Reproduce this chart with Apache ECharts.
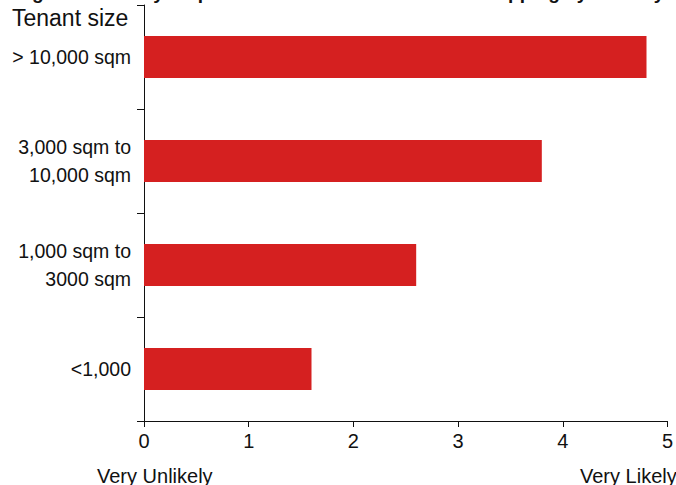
<!DOCTYPE html>
<html>
<head>
<meta charset="utf-8">
<script src="https://cdn.jsdelivr.net/npm/echarts@6/dist/echarts.min.js"></script>
<style>
  html, body { margin: 0; padding: 0; background: #fff; }
  #chart { width: 676px; height: 485px; }
</style>
</head>
<body>
<div id="chart"></div>
<script>
(function() {
  var categories = ['> 10,000 sqm', '3,000 sqm to\n10,000 sqm', '1,000 sqm to\n3000 sqm', '<1,000'];
  var scores = [4.8, 3.8, 2.6, 1.6];
  var xTicks = [0, 1, 2, 3, 4, 5];

  var font = "'Liberation Sans', Arial, sans-serif";
  var ink = '#111';
  var red = '#d52020';

  var chart = echarts.init(document.getElementById('chart'), null, { renderer: 'svg' });
  chart.setOption({
    animation: false,
    title: {
      text: 'Figure 4: Survey responses \u2013 likelihood of location mapping by tenancy',
      left: 10,
      top: -22,
      textStyle: { fontFamily: font, fontSize: 19, fontWeight: 'bold', color: ink }
    },
    grid: { left: 144, right: 8, top: 5, bottom: 64 },
    xAxis: {
      type: 'value',
      min: xTicks[0],
      max: xTicks[xTicks.length - 1],
      interval: 1,
      axisLine: { show: true, lineStyle: { color: ink, width: 1 } },
      axisTick: { show: true, length: 6, lineStyle: { color: ink } },
      axisLabel: { color: ink, fontFamily: font, fontSize: 20, margin: 10 },
      splitLine: { show: false }
    },
    yAxis: {
      type: 'category',
      inverse: true,
      data: categories,
      axisLine: { show: true, lineStyle: { color: ink, width: 1 } },
      axisTick: { show: true, length: 7, lineStyle: { color: ink } },
      axisLabel: { color: ink, fontFamily: font, fontSize: 19.5, lineHeight: 28, align: 'right', margin: 13 }
    },
    series: [{
      type: 'bar',
      data: scores,
      barWidth: 42,
      itemStyle: { color: red }
    }],
    graphic: [
      { type: 'text', left: 12, top: 6, style: { text: 'Tenant size', font: '23px ' + font, fill: ink } },
      { type: 'text', left: 97, top: 466, style: { text: 'Very Unlikely', font: '20px ' + font, fill: ink } },
      { type: 'text', left: 580, top: 466, style: { text: 'Very Likely', font: '20px ' + font, fill: ink } }
    ]
  });
  window.addEventListener('resize', function() { chart.resize(); });
})();
</script>
</body>
</html>
